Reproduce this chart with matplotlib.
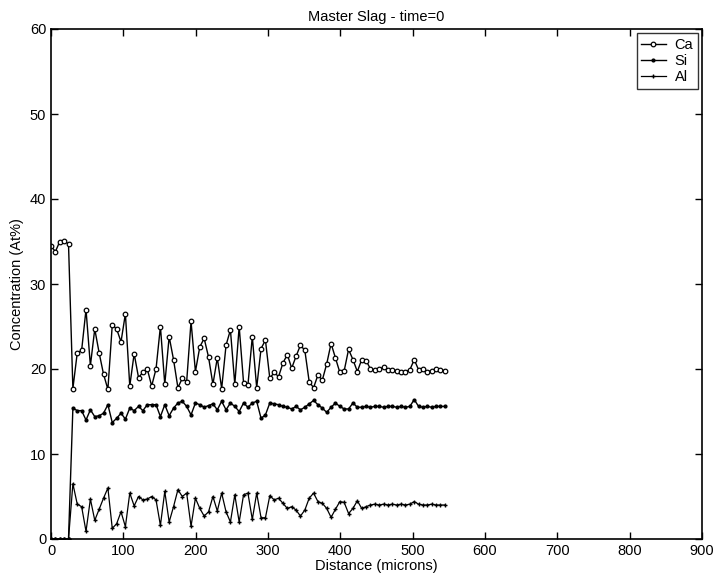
import numpy as np
import matplotlib
matplotlib.use("Agg")
import matplotlib.pyplot as plt

plt.rcParams['font.family'] = ['Liberation Sans', 'DejaVu Sans']

# sampling positions along the profile (microns)
distance = np.arange(91) * 6.05

ca = [34.5, 33.8, 35.0, 35.1, 34.7, 17.7, 21.9, 22.2, 27.0, 20.4,
      24.7, 21.9, 19.4, 17.6, 25.2, 24.7, 23.2, 26.5, 18.0, 21.8,
      19.0, 19.6, 20.0, 18.0, 20.0, 25.0, 18.2, 23.8, 21.1, 17.8,
      18.9, 18.5, 25.6, 19.7, 22.6, 23.6, 21.4, 18.2, 21.3, 17.7,
      22.8, 24.6, 18.2, 25.0, 18.4, 18.1, 23.8, 17.8, 22.4, 23.4,
      18.9, 19.6, 19.1, 20.7, 21.7, 20.1, 21.5, 22.8, 22.2, 18.5,
      17.8, 19.3, 18.7, 20.6, 23.0, 21.3, 19.6, 19.8, 22.3, 21.1,
      19.7, 21.1, 21.0, 20.0, 19.9, 20.0, 20.2, 19.9, 19.9, 19.8,
      19.7, 19.7, 19.9, 21.1, 19.9, 20.0, 19.7, 19.8, 20.0, 19.9,
      19.8]

si = [0.0, 0.0, 0.0, 0.0, 0.0, 15.4, 15.1, 15.1, 14.0, 15.2,
      14.4, 14.5, 14.8, 15.8, 13.7, 14.2, 14.8, 14.1, 15.4, 15.1,
      15.6, 15.1, 15.8, 15.8, 15.8, 14.4, 15.8, 14.5, 15.4, 16.0,
      16.2, 15.6, 14.6, 16.0, 15.8, 15.5, 15.7, 15.9, 15.2, 16.2,
      15.2, 16.0, 15.6, 15.0, 16.0, 15.5, 16.0, 16.2, 14.2, 14.6,
      16.0, 15.9, 15.8, 15.6, 15.5, 15.3, 15.6, 15.2, 15.5, 15.9,
      16.3, 15.8, 15.4, 14.9, 15.5, 16.0, 15.6, 15.3, 15.3, 16.0,
      15.5, 15.5, 15.6, 15.5, 15.6, 15.6, 15.5, 15.6, 15.6, 15.5,
      15.6, 15.5, 15.6, 16.4, 15.6, 15.5, 15.6, 15.5, 15.6, 15.6,
      15.6]

al = [0.0, 0.0, 0.0, 0.0, 0.0, 6.5, 4.1, 3.8, 0.9, 4.7,
      2.2, 3.5, 4.8, 6.0, 1.25, 1.8, 3.2, 1.45, 5.4, 3.9,
      5.0, 4.6, 4.7, 5.0, 4.6, 1.6, 5.6, 2.0, 3.8, 5.8,
      5.0, 5.4, 1.5, 4.8, 3.6, 2.7, 3.2, 5.0, 3.3, 5.4,
      3.2, 2.0, 5.2, 2.0, 5.2, 5.4, 2.3, 5.4, 2.5, 2.5,
      5.1, 4.6, 4.8, 4.2, 3.6, 3.8, 3.4, 2.7, 3.4, 4.8,
      5.4, 4.4, 4.2, 3.6, 2.55, 3.5, 4.4, 4.3, 3.0, 3.6,
      4.5, 3.6, 3.8, 4.0, 4.1, 4.0, 4.1, 4.0, 4.1, 4.0,
      4.1, 4.0, 4.1, 4.4, 4.1, 4.0, 4.0, 4.1, 4.0, 4.0,
      4.0]

fig = plt.figure(figsize=(7.14, 5.77), dpi=100)
ax = fig.add_axes([51 / 714, 1 - 539 / 577, 651 / 714, 510 / 577])

ax.plot(distance, ca, color='black', lw=1.0, marker='o', ms=3.3,
        mfc='white', mec='black', mew=0.9, label='Ca')
ax.plot(distance, si, color='black', lw=1.0, marker='.', ms=4,
        label='Si')
ax.plot(distance, al, color='black', lw=0.9, marker='+', ms=3.5,
        mew=1.0, label='Al')

ax.set_xlim(0, 900)
ax.set_ylim(0, 60)
ax.set_xticks(range(0, 901, 100))
ax.set_yticks(range(0, 61, 10))
ax.tick_params(direction='in', top=True, right=True, length=5,
               labelsize=10.5, width=1)
for sp in ax.spines.values():
    sp.set_linewidth(1.2)

ax.set_xlabel('Distance (microns)', fontsize=10.5, labelpad=1)
ax.set_ylabel('Concentration (At%)', fontsize=10.5, labelpad=4)
ax.set_title('Master Slag - time=0', fontsize=10.5, pad=6)

leg = ax.legend(loc='upper right', fontsize=10.5, frameon=True,
                fancybox=False, edgecolor='black', handlelength=1.7,
                borderaxespad=0.3, labelspacing=0.15, handletextpad=0.6,
                borderpad=0.3)
leg.get_frame().set_linewidth(1.0)

fig.savefig('out.png', dpi=100)
